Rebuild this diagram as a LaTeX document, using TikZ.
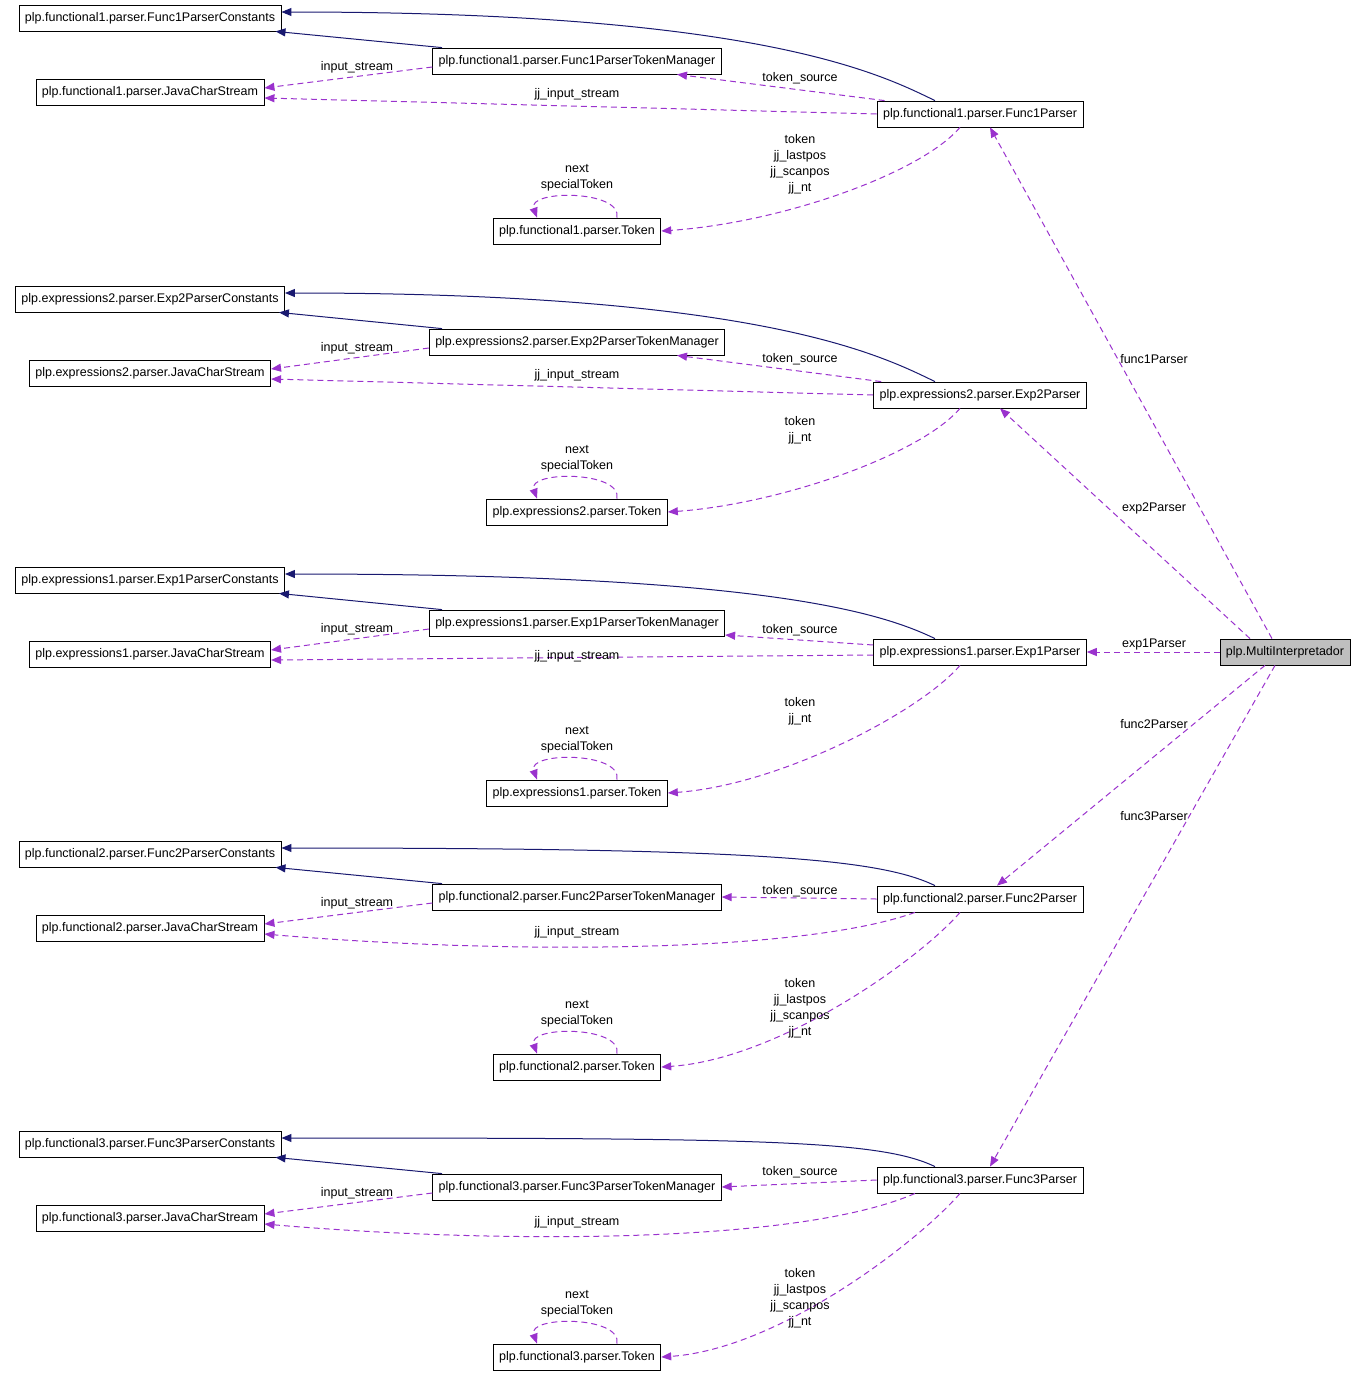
\documentclass[tikz,border=0pt]{standalone}
\usepackage{fontspec}
\setmainfont{Liberation Sans}
\usetikzlibrary{arrows.meta}
\definecolor{inhc}{HTML}{191970}
\definecolor{usec}{HTML}{9A32CD}
\tikzset{
 box/.style={draw=black,line width=0.8pt,inner xsep=6pt,minimum height=26pt,font=\fontsize{12.5}{16}\selectfont},
 lbl/.style={font=\fontsize{12.5}{16}\selectfont,inner sep=1pt},
 inh/.style={draw=inhc,line width=1pt,-{Triangle[length=10pt,width=8pt]}},
 use/.style={draw=usec,line width=1pt,dash pattern=on 6pt off 4pt,-{Triangle[length=10pt,width=8pt]}}
}
% #1 id, #2 pkg, #3 cls, #4 y, #5 token label, #6 label y, #7 parser offset, #8 variant
\newcommand\grp[8]{%
\node[box] (#1C) at (150,#4) {#2.parser.#3ParserConstants};
\node[box] (#1M) at (577,{#4+43}) {#2.parser.#3ParserTokenManager};
\node[box] (#1J) at (150,{#4+74}) {#2.parser.JavaCharStream};
\node[box] (#1P) at (980,{#4+#7}) {#2.parser.#3Parser};
\node[box] (#1T) at (577,{#4+213}) {#2.parser.Token};
\draw[inh] ([xshift=-45pt]#1P.north) .. controls (880,{#4+#7-40}) and (760,{#4-6}) .. ([yshift=6pt]#1C.east);
\draw[inh] ([xshift=-135pt]#1M.north) -- ([xshift=-6pt]#1C.south east);
\ifcase#8
 \draw[use] ([xshift=8pt]#1P.north west) -- ([xshift=100pt]#1M.south);
 \node[lbl] at (800,{#4+60}) {token\_source};
 \draw[use] (#1P.west) -- ([yshift=-6pt]#1J.east);
 \node[lbl] at (577,{#4+76}) {jj\_input\_stream};
\or
 \draw[use] ([yshift=7pt]#1P.west) -- ([yshift=-12pt]#1M.east);
 \node[lbl] at (800,{#4+50}) {token\_source};
 \draw[use] ([yshift=-3pt]#1P.west) -- ([yshift=-6pt]#1J.east);
 \node[lbl] at (577,{#4+76}) {jj\_input\_stream};
\or
 \draw[use] (#1P.west) -- (#1M.east);
 \node[lbl] at (800,{#4+#7-8}) {token\_source};
 \draw[use] ([xshift=-65pt]#1P.south) .. controls (800,{#4+100}) and (500,{#4+100}) .. ([yshift=-6pt]#1J.east);
 \node[lbl] at (577,{#4+78}) {jj\_input\_stream};
\fi
\draw[use] ([yshift=-6pt]#1M.west) -- ([yshift=4pt]#1J.east);
\node[lbl] at (357,{#4+49}) {input\_stream};
\draw[use] ([xshift=-20pt]#1P.south) .. controls (920,{#4+#7+60}) and (780,{#4+205}) .. (#1T.east);
\node[lbl,align=center] at (800,{#4+#6}) {#5};
\draw[use] ([xshift=40pt]#1T.north) .. controls ([xshift=45pt,yshift=28pt]#1T.north) and ([xshift=-50pt,yshift=28pt]#1T.north) .. ([xshift=-40pt]#1T.north);
\node[lbl,align=center] at (577,{#4+160}) {next\\specialToken};
}
\begin{document}
\begin{tikzpicture}[x=1pt,y=-1pt]
\useasboundingbox (0,0) rectangle (1363,1376);
\grp{FA}{plp.functional1}{Func1}{18}{token\\jj\_lastpos\\jj\_scanpos\\jj\_nt}{146}{96}{0}
\grp{EB}{plp.expressions2}{Exp2}{299}{token\\jj\_nt}{131}{96}{0}
\grp{EA}{plp.expressions1}{Exp1}{580}{token\\jj\_nt}{131}{72}{1}
\grp{FB}{plp.functional2}{Func2}{854}{token\\jj\_lastpos\\jj\_scanpos\\jj\_nt}{154}{45}{2}
\grp{FC}{plp.functional3}{Func3}{1144}{token\\jj\_lastpos\\jj\_scanpos\\jj\_nt}{154}{36}{2}
\node[box,fill=black!25] (MI) at (1285,652) {plp.MultiInterpretador};
\draw[use] ([xshift=-13pt]MI.north) -- ([xshift=10pt]FAP.south);
\node[lbl] at (1154,359) {func1Parser};
\draw[use] ([xshift=-35pt]MI.north) -- ([xshift=20pt]EBP.south);
\node[lbl] at (1154,508) {exp2Parser};
\draw[use] (MI.west) -- (EAP.east);
\node[lbl] at (1154,644) {exp1Parser};
\draw[use] ([xshift=-20pt]MI.south) -- ([xshift=17pt]FBP.north);
\node[lbl] at (1154,724) {func2Parser};
\draw[use] ([xshift=-10pt]MI.south) -- ([xshift=10pt]FCP.north);
\node[lbl] at (1154,816) {func3Parser};
\end{tikzpicture}
\end{document}
